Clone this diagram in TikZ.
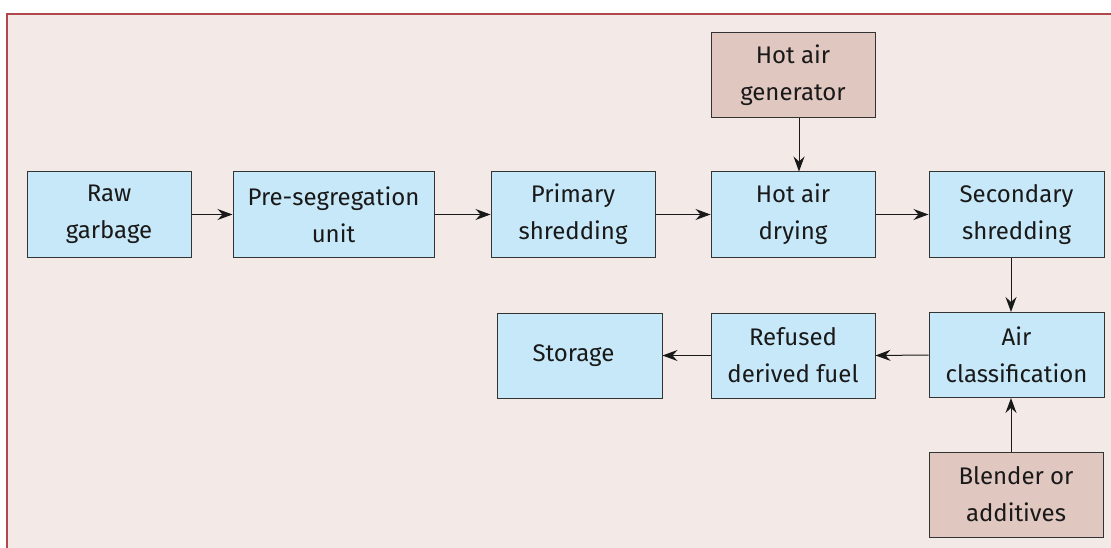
\documentclass[tikz,border=0pt]{standalone}
\usepackage{fontspec}
\setmainfont{Fira Sans}
\usetikzlibrary{arrows.meta}
\definecolor{bgc}{HTML}{F3EAE8}
\definecolor{framec}{HTML}{B0474A}
\definecolor{boxc}{HTML}{C7E8F8}
\definecolor{brownc}{HTML}{E0C7C0}
\definecolor{linec}{HTML}{333333}
\tikzset{
  x=1pt,y=-1pt,
  proc/.style={draw=linec, line width=1pt, fill=boxc, minimum height=85pt, inner sep=0pt, align=center,
    font=\fontsize{24}{37}\selectfont, text=black!90},
  src/.style={proc, fill=brownc},
  arr/.style={-{Stealth[length=15pt,width=11pt,inset=5pt]}, line width=1pt, draw=black!90},
}
\begin{document}
\begin{tikzpicture}
\useasboundingbox (0,0) rectangle (1111,548);
\fill[white] (0,0) rectangle (1111,548);
\fill[bgc] (7,14) rectangle (1111,548);
\draw[framec, line width=1.2pt] (7,548) -- (7,14) -- (1111,14);

\node[proc, minimum width=164pt] (raw) at (109,214.5) {Raw\\garbage};
\node[proc, minimum width=201pt] (pre) at (333.5,214.5) {Pre-segregation\\unit};
\node[proc, minimum width=164pt] (prim) at (573,214.5) {Primary\\shredding};
\node[proc, minimum width=164pt] (hot) at (793,214.5) {Hot air\\drying};
\node[proc, minimum width=175pt] (sec) at (1016.5,214.5) {Secondary\\shredding};
\node[src, minimum width=164pt] (gen) at (793,75.5) {Hot air\\generator};
\node[proc, minimum width=175pt] (air) at (1016.5,355) {Air\\classification};
\node[proc, minimum width=164pt] (rdf) at (793,355.5) {Refused\\derived fuel};
\node[proc, minimum width=165pt] (sto) at (579.5,355.5) {\hspace*{-12pt}Storage};
\node[src, minimum width=174pt] (blend) at (1016,494.5) {Blender or\\additives};

\draw[arr] (raw.east) -- (pre.west);
\draw[arr] (pre.east) -- (prim.west);
\draw[arr] (prim.east) -- (hot.west);
\draw[arr] (hot.east) -- (sec.west);
\draw[arr] (gen.south -| 799,0) -- (hot.north -| 799,0);
\draw[arr] (sec.south -| 1011,0) -- (air.north -| 1011,0);
\draw[arr] (air.west) -- (rdf.east);
\draw[arr] (rdf.west) -- (sto.east);
\draw[arr] (blend.north -| 1011,0) -- (air.south -| 1011,0);
\end{tikzpicture}
\end{document}
